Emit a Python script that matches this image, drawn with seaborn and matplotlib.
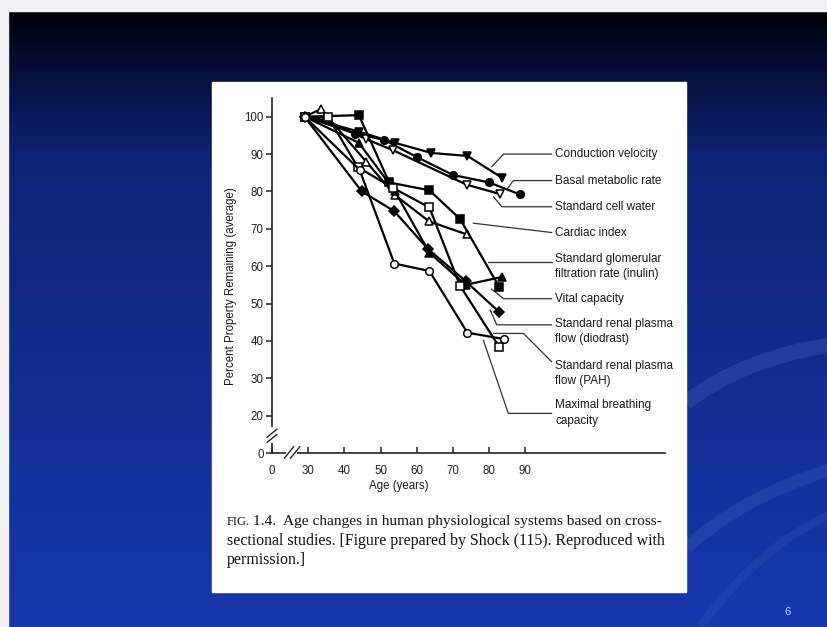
import numpy as np
import pandas as pd
import matplotlib
matplotlib.use("Agg")
import matplotlib.pyplot as plt
from matplotlib.patches import Rectangle, PathPatch
from matplotlib.path import Path
import seaborn as sns

# values: age (years) vs percent remaining
cv_age = [29, 44, 54, 64, 74, 83.5]
cv_pct = [100, 96, 93, 90.3, 89.5, 83.7]
bmr_age = [29, 43, 51, 60, 70, 80, 88.5]
bmr_pct = [100, 95.5, 93.8, 89.2, 84.4, 82.4, 79.2]
scw_age = [29, 35, 46, 53.5, 73.8, 83]
scw_pct = [100, 99, 94, 91, 81.8, 79.3]
ci_age = [29, 33.5, 46, 54, 63.4, 73.8]
ci_pct = [100, 102, 88, 79, 72, 68.5]
gfr_age = [29, 44, 54, 63.5, 73.5, 83.5]
gfr_pct = [100, 93, 80, 63.6, 55, 57.1]
vc_age = [29, 44, 52.4, 63.5, 72, 82.8]
vc_pct = [100, 100.4, 82.4, 80.3, 72.6, 54.4]
diod_age = [29, 44.8, 53.8, 63, 73.5, 82.8]
diod_pct = [100, 80, 74.7, 64.7, 56, 47.7]
pah_age = [29, 35.6, 43.7, 53.5, 63.5, 72, 82.8]
pah_pct = [100, 99.8, 86.5, 80.9, 75.7, 54.7, 38.4]
mbc_age = [29, 44.2, 53.8, 63.5, 74, 84]
mbc_pct = [100, 85.8, 60.7, 58.7, 42.2, 40.5]

labels = ["Conduction velocity", "Basal metabolic rate", "Standard cell water",
          "Cardiac index", "Standard glomerular\nfiltration rate (inulin)",
          "Vital capacity", "Standard renal plasma\nflow (diodrast)",
          "Standard renal plasma\nflow (PAH)", "Maximal breathing\ncapacity"]
x_ticks = [20, 30, 40, 50, 60, 70, 80, 90]
x_ticklabels = ["0", "30", "40", "50", "60", "70", "80", "90"]
y_ticks = [10, 20, 30, 40, 50, 60, 70, 80, 90, 100]
y_ticklabels = ["0", "20", "30", "40", "50", "60", "70", "80", "90", "100"]

series = [
    (labels[0], cv_age, cv_pct, "v", True),
    (labels[1], bmr_age, bmr_pct, "o", True),
    (labels[2], scw_age, scw_pct, "v", False),
    (labels[3], ci_age, ci_pct, "^", False),
    (labels[4], gfr_age, gfr_pct, "^", True),
    (labels[5], vc_age, vc_pct, "s", True),
    (labels[6], diod_age, diod_pct, "D", True),
    (labels[7], pah_age, pah_pct, "s", False),
    (labels[8], mbc_age, mbc_pct, "o", False),
]
df = pd.concat([pd.DataFrame({"series": n, "age": a, "pct": p}) for n, a, p, _, _ in series])

# label placement (first-line y / leader path) in data units
label_y = [90.0, 82.9, 75.9, 69.0, 59.9, 51.3, 42.6, 31.3, 20.7]
leaders = [
    [(97.3, 90.0), (84.0, 90.0), (80.7, 86.6)],
    [(97.3, 82.9), (86.7, 82.9), (84.9, 80.6)],
    [(97.3, 75.9), (83.5, 75.9), (81.2, 78.6)],
    [(97.3, 69.0), (75.6, 71.5)],
    [(97.3, 61.1), (79.8, 61.1)],
    [(97.3, 51.3), (84.0, 51.3), (80.6, 53.9)],
    [(97.3, 44.3), (82.1, 44.3), (80.3, 48.3)],
    [(97.3, 34.4), (89.5, 42.0), (81.2, 42.0)],
    [(97.3, 20.6), (85.3, 20.6), (78.4, 40.2)],
]

sns.set_theme(style="white")
plt.rcParams["font.family"] = ["Liberation Sans", "DejaVu Sans"]

W, H = 828, 627
fig = plt.figure(figsize=(W / 100, H / 100), dpi=100)

# slide background
bg = fig.add_axes([0, 0, 1, 1])
bg.set_axis_off()
rows = np.arange(H)
stops = [0, 12, 60, 160, 627]
cols = np.array([[0.0, 0.0, 0.02], [0.0, 0.0, 0.03], [0.02, 0.05, 0.2],
                 [0.05, 0.14, 0.46], [0.09, 0.22, 0.68]])
grad = np.stack([np.interp(rows, stops, cols[:, k]) for k in range(3)], axis=-1)
grad = np.repeat(grad[:, None, :], 4, axis=1)
bg.imshow(grad, extent=[0, W, H, 0], aspect="auto")
curve = Path.CURVE3
for p0, c, p1, lw, al in [((830, 345), (745, 358), (686, 402), 11, 0.22),
                          ((830, 470), (745, 495), (686, 548), 9, 0.18),
                          ((830, 515), (760, 545), (700, 627), 6, 0.12)]:
    bg.add_patch(PathPatch(Path([p0, c, p1], [Path.MOVETO, curve, curve]),
                           fill=False, edgecolor="#5a7ed8", lw=lw, alpha=al))
bg.add_patch(Rectangle((0, 0), W, 11, color="#f2f2f4"))
bg.add_patch(Rectangle((0, 0), 8, H, color="#f2f2f4"))
bg.set_xlim(0, W)
bg.set_ylim(H, 0)
panel = Rectangle((212, 82), 474, 510, color="white")
bg.add_patch(panel)
bg.text(788, 612, "6", color="#d0d6ea", fontsize=8, ha="center", va="center")

# chart axes
ax = fig.add_axes([272 / W, 1 - 453 / H, (665 - 272) / W, (453 - 98) / H])
ax.set_facecolor("none")
for name, a, p, mk, filled in series:
    sns.lineplot(data=df[df["series"] == name], x="age", y="pct", ax=ax,
                 color="black", lw=1.6, marker=mk, markersize=5.5,
                 markerfacecolor="black" if filled else "white",
                 markeredgecolor="black", markeredgewidth=1.1, zorder=3)

ax.set_xlim(20, 128.6)
ax.set_ylim(10, 105)
ax.set_xticks(x_ticks)
ax.set_xticklabels(x_ticklabels)
ax.set_yticks(y_ticks)
ax.set_yticklabels(y_ticklabels)
ax.set_xlabel("")
ax.set_ylabel("")
for s in ["top", "right"]:
    ax.spines[s].set_visible(False)
for s in ["left", "bottom"]:
    ax.spines[s].set_color("#222222")
    ax.spines[s].set_linewidth(1.2)
ax.tick_params(axis="y", direction="out", length=4.5, width=1.1, pad=1.5,
               labelsize=8.3, colors="#222222", left=True)
ax.tick_params(axis="x", direction="in", length=4, width=1.1, pad=8.5,
               labelsize=8.3, colors="#222222", bottom=True)

# axis breaks
ax.plot([20, 20], [13.2, 16.4], color="white", lw=3, clip_on=False, zorder=4)
for dy in (0, 1.4):
    ax.plot([18.6, 21.4], [12.8 + dy, 15.0 + dy], color="#222222", lw=1.0, clip_on=False, zorder=5)
ax.plot([24.3, 26.4], [10, 10], color="white", lw=3, clip_on=False, zorder=4)
for dx in (0, 1.7):
    ax.plot([23.4 + dx, 26.0 + dx], [8.6, 11.7], color="#222222", lw=1.0, clip_on=False, zorder=5)

# leader lines and series names
clip = Rectangle((212, 82), 474, 510, transform=bg.transData, fill=False, lw=0)
for lab, yl, path in zip(labels, label_y, leaders):
    xs, ys = zip(*path)
    ax.plot(xs, ys, color="#333333", lw=0.9, clip_on=False, zorder=2)
    txt = ax.text(98.3, yl, lab, ha="left", va="center", fontsize=8.5,
                  linespacing=1.35, color="#1a1a1a", clip_on=True)
    txt.set_clip_path(clip)

fig.text(231.5 / W, 1 - 286 / H, "Percent Property Remaining (average)", rotation=90,
         ha="center", va="center", fontsize=8.3, color="#1a1a1a")
fig.text(398.5 / W, 1 - 486 / H, "Age (years)", ha="center", va="center",
         fontsize=8.3, color="#1a1a1a")

# caption
serif = ["Liberation Serif", "DejaVu Serif"]
fig.text(227 / W, 1 - 522 / H, "FIG.", family=serif, fontsize=9, ha="left", va="center", color="#111111")
fig.text(253 / W, 1 - 522 / H, "1.4.  Age changes in human physiological systems based on cross-",
         family=serif, fontsize=11.1, ha="left", va="center", color="#111111")
fig.text(227 / W, 1 - 541 / H, "sectional studies. [Figure prepared by Shock (115). Reproduced with",
         family=serif, fontsize=11.4, ha="left", va="center", color="#111111")
fig.text(227 / W, 1 - 560 / H, "permission.]", family=serif, fontsize=11.4,
         ha="left", va="center", color="#111111")

fig.savefig("out.png", dpi=100)
